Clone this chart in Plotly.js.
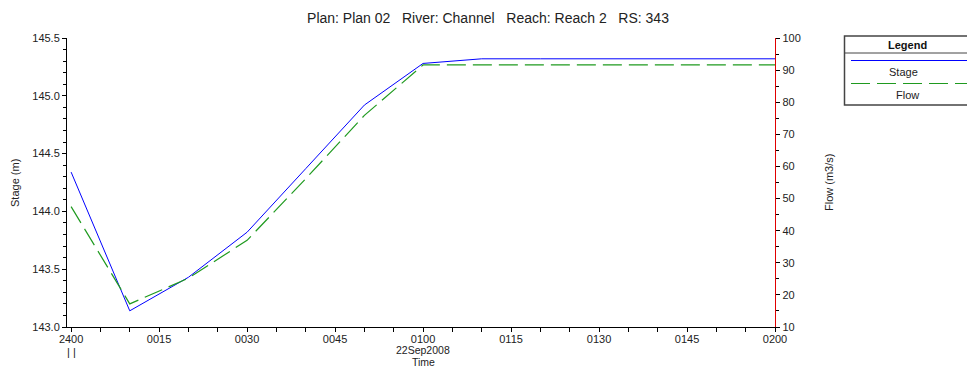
<!DOCTYPE html>
<html>
<head>
<meta charset="utf-8">
<script src="https://cdn.plot.ly/plotly-3.0.1.min.js"></script>
<style>
  html, body { margin: 0; padding: 0; background: #fff; }
  #chart { width: 967px; height: 367px; }
</style>
</head>
<body>
<div id="chart"></div>
<script>
// Minutes after 2400 on 22Sep2008
var timeMin = [0, 10, 20, 30, 40, 50, 60, 70, 80, 90, 100, 110, 120];
// Stage (m)
var stage = [144.34, 143.14, 143.43, 143.82, 144.37, 144.92, 145.28, 145.32, 145.32, 145.32, 145.32, 145.32, 145.32];
// Flow (m3/s)
var flow = [47.5, 17.2, 25.2, 37.0, 56.2, 75.9, 91.6, 91.6, 91.6, 91.6, 91.6, 91.6, 91.6];

var tickMin = [0, 15, 30, 45, 60, 75, 90, 105, 120];
var tickLabels = ['2400', '0015', '0030', '0045', '0100', '0115', '0130', '0145', '0200'];

var FONT = '"Liberation Sans", Arial, sans-serif';
var stageColor = '#0000ff';
var flowColor = '#1f9a1f';
var flowDash = '19px,7px';

var traces = [
  {
    x: timeMin, y: stage, name: 'Stage', type: 'scatter', mode: 'lines',
    line: { color: stageColor, width: 1 }, yaxis: 'y', showlegend: false
  },
  {
    x: timeMin, y: flow, name: 'Flow', type: 'scatter', mode: 'lines',
    line: { color: flowColor, width: 1.2, dash: flowDash }, yaxis: 'y2', showlegend: false
  }
];

// plot box in pixels: left 67, right 775, top 38, bottom 327
var L = 67, R = 775, T = 38, B = 327;
function px(x) { return (x - L) / (R - L); }
function py(y) { return (B - y) / (B - T); }

var layout = {
  width: 967, height: 367,
  margin: { l: L, r: 967 - R, t: T, b: 367 - B, pad: 0 },
  paper_bgcolor: '#fff', plot_bgcolor: '#fff',
  font: { family: FONT, size: 11, color: '#222' },
  showlegend: false,
  title: {
    text: 'Plan: Plan 02\u00a0\u00a0 River: Channel\u00a0\u00a0 Reach: Reach 2\u00a0\u00a0 RS: 343',
    font: { family: FONT, size: 14, color: '#222' },
    x: 488 / 967, xanchor: 'center', xref: 'container',
    y: 1 - 18 / 367, yanchor: 'middle', yref: 'container'
  },
  xaxis: {
    range: [-0.7, 120], showgrid: false, zeroline: false,
    showline: true, linecolor: '#000', linewidth: 1,
    tickmode: 'array', tickvals: tickMin, ticktext: tickLabels,
    ticks: 'outside', ticklen: 4, tickcolor: '#000', tickwidth: 1,
    ticklabelstandoff: -2,
    minor: { tickmode: 'linear', tick0: 0, dtick: 5, ticks: 'outside', ticklen: 4, tickcolor: '#000' },
    tickfont: { family: FONT, size: 11, color: '#222' }
  },
  yaxis: {
    range: [143.0, 145.5], showgrid: false, zeroline: false,
    showline: true, linecolor: '#000', linewidth: 1,
    tickmode: 'linear', tick0: 143, dtick: 0.5, tickformat: '.1f',
    ticks: 'outside', ticklen: 4, tickcolor: '#000',
    minor: { tickmode: 'linear', tick0: 143, dtick: 0.1, ticks: 'outside', ticklen: 3, tickcolor: '#000' },
    tickfont: { family: FONT, size: 11, color: '#222' }
  },
  yaxis2: {
    range: [10, 100], overlaying: 'y', side: 'right',
    showgrid: false, zeroline: false,
    showline: true, linecolor: '#e00000', linewidth: 1.2,
    tickmode: 'linear', tick0: 10, dtick: 10,
    ticks: 'outside', ticklen: 4, tickcolor: '#000',
    minor: { tickmode: 'linear', tick0: 10, dtick: 5, ticks: 'outside', ticklen: 3, tickcolor: '#000' },
    tickfont: { family: FONT, size: 11, color: '#222' }
  },
  shapes: [
    // legend box
    { type: 'rect', xref: 'paper', yref: 'paper', x0: px(844.5), x1: px(975), y0: py(105), y1: py(36),
      line: { color: '#444', width: 1.5 }, fillcolor: 'rgba(0,0,0,0)' },
    { type: 'line', xref: 'paper', yref: 'paper', x0: px(844.5), x1: px(975), y0: py(53), y1: py(53),
      line: { color: '#444', width: 1 } },
    { type: 'line', xref: 'paper', yref: 'paper', x0: px(851), x1: px(975), y0: py(60.5), y1: py(60.5),
      line: { color: stageColor, width: 1 } },
    { type: 'line', xref: 'paper', yref: 'paper', x0: px(851), x1: px(975), y0: py(83.5), y1: py(83.5),
      line: { color: flowColor, width: 1.2, dash: flowDash } }
  ],
  annotations: [
    { text: '<b>Legend</b>', xref: 'paper', yref: 'paper', x: px(907), y: py(44.5), showarrow: false,
      xanchor: 'center', yanchor: 'middle', font: { family: FONT, size: 11, color: '#111' } },
    { text: 'Stage', xref: 'paper', yref: 'paper', x: px(903), y: py(72), showarrow: false,
      xanchor: 'center', yanchor: 'middle', font: { family: FONT, size: 11, color: '#222' } },
    { text: 'Flow', xref: 'paper', yref: 'paper', x: px(907), y: py(95), showarrow: false,
      xanchor: 'center', yanchor: 'middle', font: { family: FONT, size: 11, color: '#222' } },
    { text: 'Stage (m)', xref: 'paper', yref: 'paper', x: px(15), y: py(183), showarrow: false,
      textangle: -90, xanchor: 'center', yanchor: 'middle', font: { family: FONT, size: 11, color: '#222' } },
    { text: 'Flow (m3/s)', xref: 'paper', yref: 'paper', x: px(829), y: py(183), showarrow: false,
      textangle: -90, xanchor: 'center', yanchor: 'middle', font: { family: FONT, size: 11, color: '#222' } },
    { text: '22Sep2008', xref: 'x', yref: 'paper', x: 60, y: py(350), showarrow: false,
      xanchor: 'center', yanchor: 'middle', font: { family: FONT, size: 10.5, color: '#222' } },
    { text: 'Time', xref: 'x', yref: 'paper', x: 60, y: py(361.5), showarrow: false,
      xanchor: 'center', yanchor: 'middle', font: { family: FONT, size: 10.5, color: '#222' } },
    { text: '| |', xref: 'x', yref: 'paper', x: 0, y: py(352), showarrow: false,
      xanchor: 'center', yanchor: 'middle', font: { family: FONT, size: 11, color: '#222' } }
  ]
};

Plotly.newPlot('chart', traces, layout, { staticPlot: true, displayModeBar: false });
</script>
</body>
</html>
